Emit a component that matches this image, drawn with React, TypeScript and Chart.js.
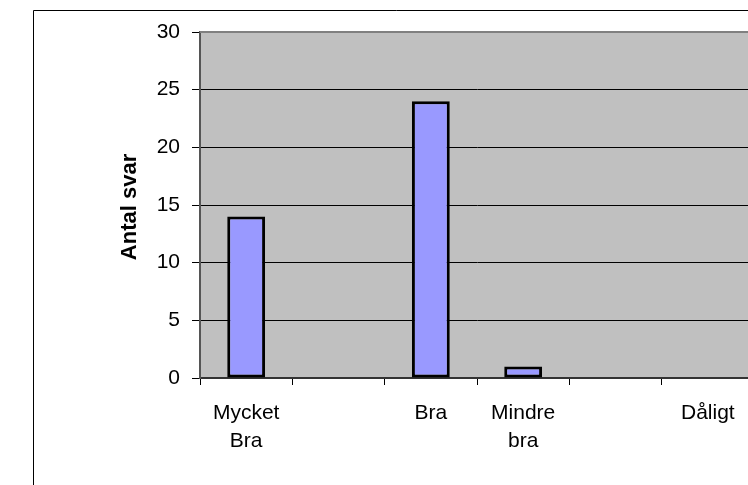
import React, { useEffect, useRef } from "react";
import { Chart, registerables } from "chart.js";

Chart.register(...registerables);

const categories: (string | string[])[] = [["Mycket", "Bra"], "", "Bra", ["Mindre", "bra"], "", "Dåligt"];
const antalSvar: (number | null)[] = [14, null, 24, 1, null, null];
const yTicks = { min: 0, max: 30, step: 5 };
const yTitle = "Antal svar";

const FONT = "'Liberation Sans', Arial, sans-serif";

const decor = {
  id: "decor",
  beforeDraw(chart: any) {
    const { ctx, chartArea } = chart;
    ctx.save();
    ctx.fillStyle = "#ffffff";
    ctx.fillRect(0, 0, chart.width, chart.height);
    // outer chart box
    ctx.strokeStyle = "#000000";
    ctx.lineWidth = 1;
    ctx.beginPath();
    ctx.moveTo(33.5, chart.height);
    ctx.lineTo(33.5, 10.5);
    ctx.lineTo(chart.width, 10.5);
    ctx.stroke();
    // plot background
    ctx.fillStyle = "#C0C0C0";
    ctx.fillRect(chartArea.left, chartArea.top, chartArea.right - chartArea.left, chartArea.bottom - chartArea.top);
    ctx.restore();
  },
  afterDraw(chart: any) {
    const { ctx, chartArea } = chart;
    ctx.save();
    // plot top border
    ctx.strokeStyle = "#808080";
    ctx.lineWidth = 2;
    ctx.beginPath();
    ctx.moveTo(chartArea.left, chartArea.top);
    ctx.lineTo(chartArea.right, chartArea.top);
    ctx.stroke();
    // y title
    ctx.translate(130, 207);
    ctx.rotate(-Math.PI / 2);
    ctx.fillStyle = "#000000";
    ctx.font = `bold 22px ${FONT}`;
    ctx.textAlign = "center";
    ctx.textBaseline = "middle";
    ctx.fillText(yTitle, 0, 0);
    ctx.restore();
  },
};

export default function App() {
  const ref = useRef<HTMLCanvasElement | null>(null);
  useEffect(() => {
    if (!ref.current) return;
    const chart = new Chart(ref.current, {
      type: "bar",
      data: {
        labels: categories,
        datasets: [
          {
            data: antalSvar,
            backgroundColor: "#9999FF",
            borderColor: "#000000",
            borderWidth: 3,
            borderSkipped: false,
            barPercentage: 0.41,
            categoryPercentage: 1,
          },
        ],
      },
      options: {
        responsive: false,
        animation: false,
        devicePixelRatio: 1,
        layout: { padding: { left: 0, top: 32, right: 6, bottom: 0 } },
        plugins: { legend: { display: false }, tooltip: { enabled: false }, title: { display: false } },
        scales: {
          x: {
            offset: true,
            grid: {
              offset: true,
              drawOnChartArea: false,
              drawTicks: true,
              tickLength: 7,
              color: "#000000",
              lineWidth: 1,
            },
            border: { color: "#333333", width: 2 },
            ticks: {
              color: "#000000",
              font: { family: FONT, size: 21, lineHeight: 1.33 },
              padding: 14,
              maxRotation: 0,
              autoSkip: false,
            },
            afterFit(scale: any) {
              scale.height = 107;
            },
          },
          y: {
            min: yTicks.min,
            max: yTicks.max,
            grid: {
              color: "#000000",
              lineWidth: 1,
              drawTicks: true,
              tickLength: 8,
            },
            border: { color: "#555555", width: 2 },
            ticks: {
              stepSize: yTicks.step,
              color: "#000000",
              font: { family: FONT, size: 21 },
              padding: 12,
            },
            afterFit(scale: any) {
              scale.width = 200;
            },
          },
        },
      },
      plugins: [decor],
    });
    return () => chart.destroy();
  }, []);
  return (
    <div style={{ position: "fixed", left: 0, top: 0, width: 748, height: 485, overflow: "hidden", background: "#fff" }}>
      <canvas ref={ref} width={760} height={485} style={{ display: "block" }} />
    </div>
  );
}
